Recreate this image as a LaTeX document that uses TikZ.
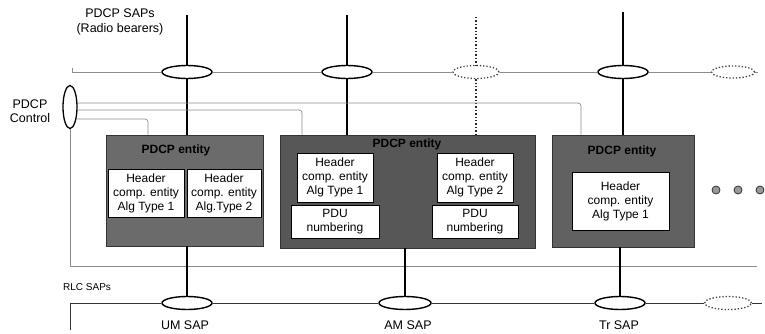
\documentclass[tikz,border=0pt]{standalone}
\usepackage{fontspec}
\setmainfont{Liberation Sans}
\usetikzlibrary{shapes.geometric}
\begin{document}
\begin{tikzpicture}[x=1pt,y=-1pt,
  sap/.style={ellipse, draw=black, line width=1.4pt, fill=white, minimum width=50pt, minimum height=13pt, inner sep=0pt},
  dsap/.style={ellipse, draw=black!75, dotted, line width=1.3pt, fill=white, minimum width=46pt, minimum height=13pt, inner sep=0pt},
  entity/.style={draw=black!80, fill=black!58, line width=0.8pt, inner sep=0pt},
  inbox/.style={draw=black, line width=1pt, fill=white, align=center, font=\fontsize{12}{14}\selectfont, inner sep=0pt},
  ttl/.style={font=\bfseries\fontsize{12}{13}\selectfont},
  bar/.style={line width=1.4pt, black},
  dbar/.style={line width=1.4pt, black!85, dotted},
  ctrl/.style={line width=0.7pt, black!45},
  rlc/.style={line width=0.9pt, black!80},
  lbl/.style={font=\fontsize{12.5}{15}\selectfont, align=center, inner sep=0pt},
  gdot/.style={circle, draw=black!80, fill=black!40, minimum size=8pt, inner sep=0pt, line width=0.8pt}
]
\useasboundingbox (0,0) rectangle (765,334);

% entity boxes
\node[entity, minimum width=157pt, minimum height=111pt] (e1) at (184.5,190.5) {};
\node[entity, fill=black!66, minimum width=255pt, minimum height=113pt] (e2) at (407.5,191.5) {};
\node[entity, fill=black!62, minimum width=142pt, minimum height=112pt] (e3) at (623,191) {};

\node[ttl] (t1) at (176,150) {PDCP entity};
\node[ttl] (t2) at (407,144) {PDCP entity};
\node[ttl] (t3) at (622,151) {PDCP entity};

\node[inbox, minimum width=76pt, minimum height=48pt] (h11) at (146,193) {Header\\comp. entity\\Alg Type 1};
\node[inbox, minimum width=74pt, minimum height=48pt] (h12) at (224,193) {Header\\comp. entity\\Alg.Type 2};
\node[inbox, minimum width=76pt, minimum height=49pt] (h21) at (335,177.5) {Header\\comp. entity\\Alg Type 1};
\node[inbox, minimum width=88pt, minimum height=33pt] (p21) at (335,221.5) {PDU\\numbering};
\node[inbox, minimum width=76pt, minimum height=49pt] (h22) at (475,177.5) {Header\\comp. entity\\Alg Type 2};
\node[inbox, minimum width=86pt, minimum height=33pt] (p22) at (475,221.5) {PDU\\numbering};
\node[inbox, minimum width=97pt, minimum height=58pt] (h31) at (620.5,201) {Header\\comp. entity\\Alg Type 1};

% top SAPs
\node[sap] (s1) at (187,72) {};
\node[sap] (s2) at (347,72) {};
\node[dsap] (s3) at (476,72) {};
\node[sap] (s4) at (623,72) {};
\node[dsap, minimum width=43pt, minimum height=12pt] (s5) at (733,72) {};
\coordinate (topL) at (72,72);
\coordinate (topR) at (758,72);
\draw[ctrl] (topL) -- (s1) -- (s2) -- (s3) -- (s4) -- (s5) -- (topR);
\draw[ctrl] (topL) -- ++(0,-4);

\coordinate (v1) at (187,15);
\coordinate (v2) at (347,15);
\coordinate (v3) at (476,17);
\coordinate (v4) at (623,12);
\draw[bar] (v1) -- (s1);
\draw[bar] (s1) -- (s1 |- e1.north);
\draw[bar] (v2) -- (s2);
\draw[bar] (s2) -- (s2 |- e2.north);
\draw[dbar] (v3) -- (s3);
\draw[dbar] (s3) -- (s3 |- e2.north);
\draw[bar] (v4) -- (s4);
\draw[bar] (s4) -- (s4 |- e3.north);

% PDCP control
\node[ellipse, draw=black, line width=1.3pt, fill=white, minimum width=14pt, minimum height=43pt, inner sep=0pt] (pc) at (70,107) {};
\node[lbl, font=\fontsize{12.5}{14}\selectfont] (pcl) at (30,111) {PDCP\\Control};
\coordinate (k3) at (77,103);
\coordinate (k2) at (77,110);
\coordinate (k1) at (76,119);
\coordinate (x3) at (581,0);
\coordinate (x2) at (302,0);
\coordinate (x1) at (148,0);
\draw[ctrl, rounded corners=3pt] (k3) -| (x3 |- e3.north);
\draw[ctrl, rounded corners=3pt] (k2) -| (x2 |- e2.north);
\draw[ctrl, rounded corners=3pt] (k1) -| (x1 |- e1.north);
\coordinate (lowR) at (757,266);
\draw[ctrl] (pc.south) |- (lowR);

% labels
\node[lbl] (sapl) at (120,22) {PDCP SAPs\\(Radio bearers)};
\node[lbl, anchor=west, font=\fontsize{10}{12}\selectfont] (rlcl) at (63,287) {RLC SAPs};

% RLC SAPs
\node[sap, minimum width=50pt] (um) at (187,303) {};
\node[sap, minimum width=52pt] (am) at (405,303) {};
\node[sap, minimum width=50pt] (tr) at (620,303) {};
\node[dsap, minimum width=47pt, minimum height=13pt] (rx) at (728,303) {};
\coordinate (rlcB) at (70,330);
\coordinate (rlcR) at (762,303);
\draw[rlc] (rlcB) |- (um);
\draw[rlc] (um) -- (am) -- (tr) -- (rx) -- (rlcR);
\draw[bar] (um |- e1.south) -- (um);
\draw[bar] (am |- e2.south) -- (am);
\draw[bar] (tr |- e3.south) -- (tr);
\node[lbl] (uml) at (185,325) {UM SAP};
\node[lbl] (aml) at (408,325) {AM SAP};
\node[lbl] (trl) at (619,325) {Tr SAP};

% dots
\node[gdot] (d1) at (716,190) {};
\node[gdot] (d2) at (738,190) {};
\node[gdot] (d3) at (760,190) {};
\end{tikzpicture}
\end{document}
